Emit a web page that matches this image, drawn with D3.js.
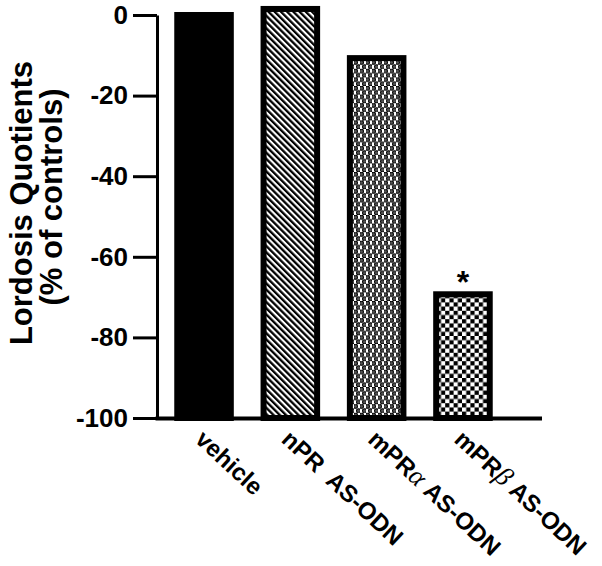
<!DOCTYPE html>
<html><head><meta charset="utf-8">
<script src="https://cdn.jsdelivr.net/npm/d3@7"></script>
<style>body{margin:0;background:#fff}svg{display:block}</style>
</head><body>
<svg id="c" width="602" height="566"></svg>
<script>
const categories = ["vehicle", "nPR AS-ODN", "mPRα AS-ODN", "mPRβ AS-ODN"];
const labelPrefix = ["vehicle", "nPR", "mPR", "mPR"];
const labelGreek = ["", "", "α", "β"];
const labelSuffix = ["", "  AS-ODN", " AS-ODN", " AS-ODN"];
const values = [0, 1.5, -10.7, -69.3];
const fills = ["solid", "stripes", "dots", "checker"];
const significance = ["", "", "", "*"];
const yTicks = [0, -20, -40, -60, -80, -100];
const yTitle = ["Lordosis Quotients", "(% of controls)"];

const FONT = "'Liberation Sans', Arial, Helvetica, sans-serif";
const svg = d3.select("#c");
const defs = svg.append("defs");

// patterns
const pS = defs.append("pattern").attr("id","stripes").attr("patternUnits","userSpaceOnUse")
  .attr("width",4.4).attr("height",10).attr("patternTransform","rotate(-45)");
pS.append("rect").attr("width",4.4).attr("height",10).attr("fill","#fff");
pS.append("rect").attr("width",2.3).attr("height",10).attr("fill","#000");

const pD = defs.append("pattern").attr("id","dots").attr("patternUnits","userSpaceOnUse")
  .attr("width",6).attr("height",8.6);
pD.append("rect").attr("width",6).attr("height",8.6).attr("fill","#fff");
[[1.5,2.15],[4.5,6.45]].forEach(([cx,cy])=>{
  pD.append("circle").attr("cx",cx).attr("cy",cy).attr("r",2.0).attr("fill","#555").attr("stroke","#000").attr("stroke-width",1);
});

const pC = defs.append("pattern").attr("id","checker").attr("patternUnits","userSpaceOnUse")
  .attr("width",8.4).attr("height",8.4);
pC.append("rect").attr("width",8.4).attr("height",8.4).attr("fill","#fff");
pC.append("rect").attr("width",4.2).attr("height",4.2).attr("fill","#000");
pC.append("rect").attr("x",4.2).attr("y",4.2).attr("width",4.2).attr("height",4.2).attr("fill","#000");

const y = d3.scaleLinear().domain([-100, 0]).range([418, 15]);
const x = d3.scaleBand().domain(categories).range([157, 510]).paddingInner(0.31).paddingOuter(0.2);

const SW = 6;
// bars
svg.append("g").selectAll("rect").data(values).join("rect")
  .attr("x", (d,i) => x(categories[i]) + SW/2)
  .attr("width", x.bandwidth() - SW)
  .attr("y", d => y(d))
  .attr("height", d => y(-100) - y(d))
  .attr("fill", (d,i) => fills[i] === "solid" ? "#000" : `url(#${fills[i]})`)
  .attr("stroke", "#000").attr("stroke-width", SW);

// y axis
const yAxis = d3.axisLeft(y).tickValues(yTicks).tickFormat(d => String(d)).tickSize(24).tickPadding(5).tickSizeOuter(0);
const gy = svg.append("g").attr("transform","translate(157,0)").call(yAxis);
gy.select(".domain").attr("stroke","#000").attr("stroke-width",3);
gy.selectAll(".tick line").attr("stroke","#000").attr("stroke-width",3);
gy.selectAll(".tick text").attr("font-family",FONT).attr("font-weight","bold").attr("font-size",26).attr("fill","#000");

// x axis line
svg.append("line").attr("x1",155.5).attr("x2",542).attr("y1",y(-100)+0.5).attr("y2",y(-100)+0.5)
  .attr("stroke","#000").attr("stroke-width",4);

// x labels
const xl = svg.append("g").selectAll("text").data(categories).join("text")
  .attr("transform", (d,i) => `translate(${x(d) + x.bandwidth()/2 - 10},${441}) rotate(43)`)
  .attr("font-family",FONT).attr("font-weight","bold").attr("font-size",24)
  .attr("fill","#000").style("white-space","pre");
xl.each(function(d,i){
  const t = d3.select(this);
  t.append("tspan").text(labelPrefix[i]);
  if (labelGreek[i]) t.append("tspan").attr("font-family","'Liberation Serif','DejaVu Serif',serif").attr("font-weight","normal").attr("font-style","italic").attr("font-size",27).text(labelGreek[i]);
  if (labelSuffix[i]) t.append("tspan").text(labelSuffix[i]);
});

// significance
svg.append("g").selectAll("text").data(values).join("text")
  .attr("x",(d,i)=> x(categories[i]) + x.bandwidth()/2)
  .attr("y", d => y(d) - 1)
  .attr("text-anchor","middle")
  .attr("font-family",FONT).attr("font-weight","bold").attr("font-size",32).attr("fill","#000")
  .text((d,i)=>significance[i]);

// y title
const yt = svg.append("text").attr("transform","translate(0,203) rotate(-90)")
  .attr("text-anchor","middle").attr("font-family",FONT).attr("font-weight","bold").attr("font-size",31).attr("fill","#000");
yt.append("tspan").attr("x",0).attr("y",32).text(yTitle[0]);
yt.append("tspan").attr("x",6).attr("y",62).text(yTitle[1]);
</script>
</body></html>
